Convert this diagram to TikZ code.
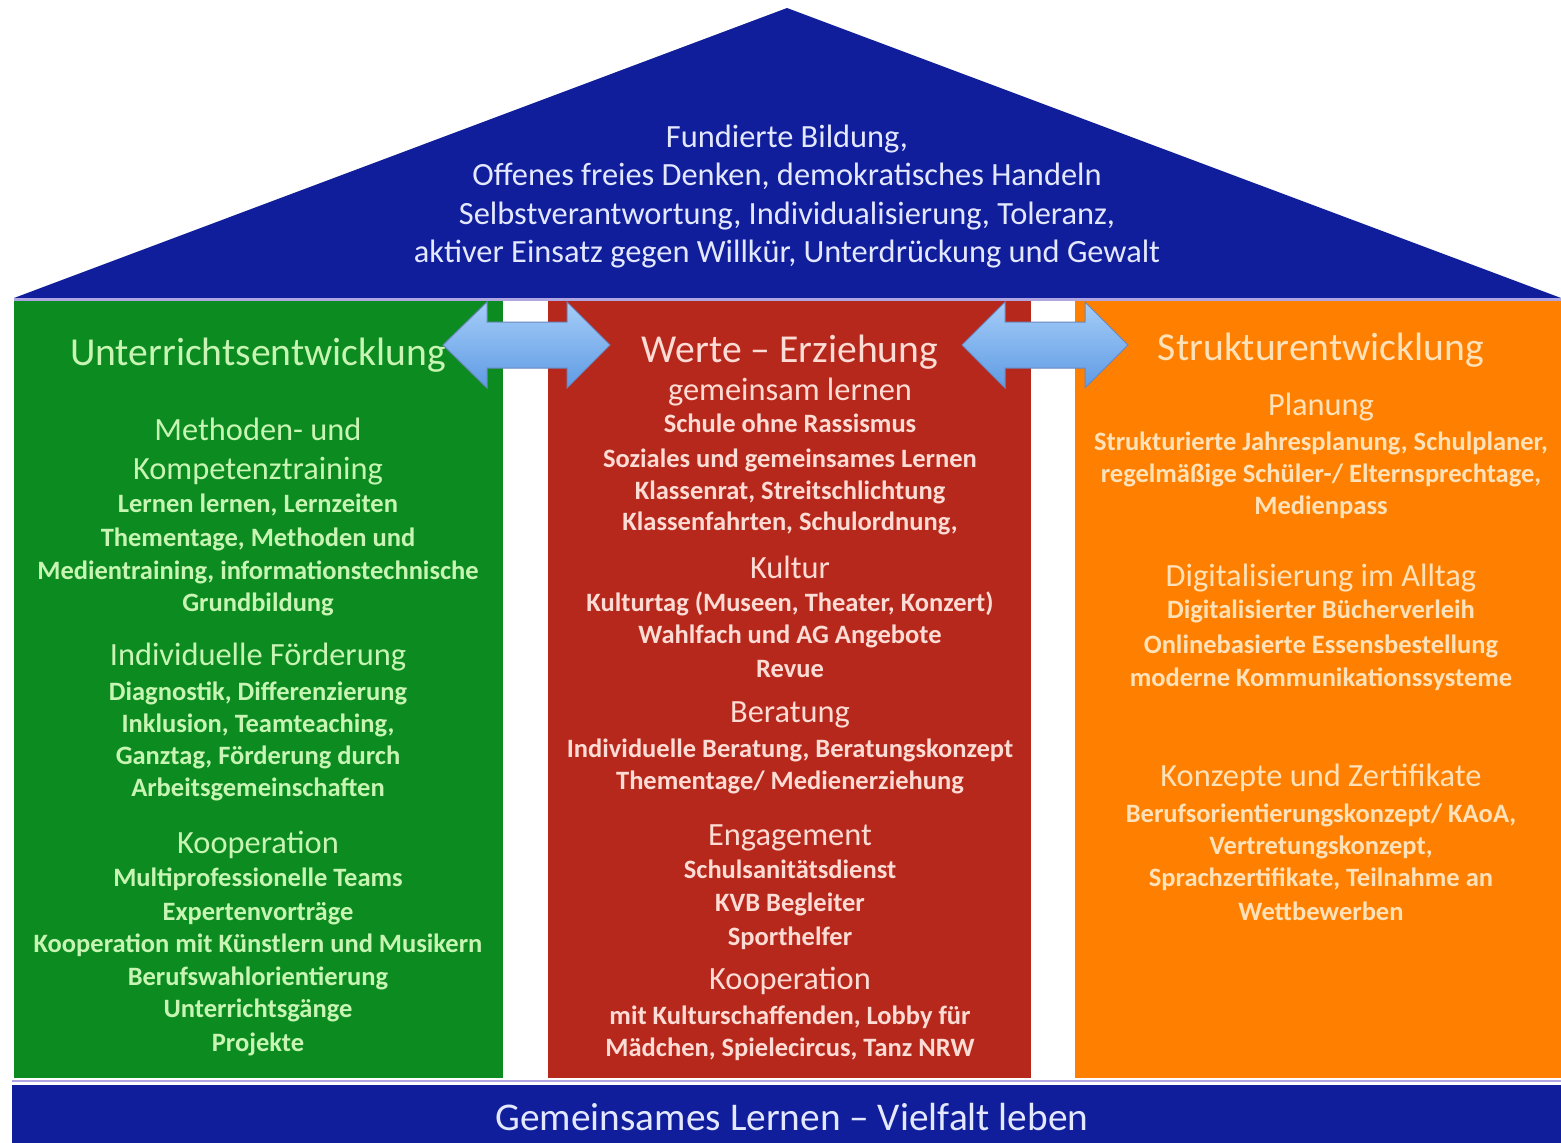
\documentclass[tikz,border=0pt]{standalone}
\usepackage{fontspec}
\setmainfont{Carlito}
\definecolor{navy}{RGB}{16,30,155}
\definecolor{colgreen}{RGB}{12,140,32}
\definecolor{colred}{RGB}{183,40,28}
\definecolor{colorange}{RGB}{255,128,0}
\definecolor{lav}{RGB}{175,165,225}
\definecolor{rooftxt}{RGB}{228,232,255}
\definecolor{greentxt}{RGB}{200,245,180}
\definecolor{redtxt}{RGB}{252,220,212}
\definecolor{orangetxt}{RGB}{255,226,185}
\definecolor{arrowtop}{RGB}{165,205,248}
\definecolor{arrowbot}{RGB}{95,155,228}
\definecolor{arrowedge}{RGB}{105,135,190}
\tikzset{
  tx/.style={inner sep=0pt, anchor=center, text height=6pt, text depth=5.5pt},
  rooft/.style={tx, text=rooftxt, yshift=-10pt, font=\fontsize{32.4}{38}\selectfont},
  hd/.style={tx, yshift=-13pt, font=\fontsize{39.6}{47}\selectfont},
  sh/.style={tx, yshift=-10pt, font=\fontsize{32.4}{38}\selectfont},
  bd/.style={tx, yshift=-9pt, font=\bfseries\fontsize{26.5}{31}\selectfont},
  gtx/.style={text=greentxt},
  rtx/.style={text=redtxt},
  otx/.style={text=orangetxt},
  linkarrow/.style={top color=arrowtop, bottom color=arrowbot, draw=arrowedge, line width=1pt, line join=miter},
}
\begin{document}
\begin{tikzpicture}[x=1pt,y=-1pt]
\useasboundingbox (0,0) rectangle (1561,1143);
\fill[white] (0,0) rectangle (1561,1143);
% roof
\fill[navy] (14,298) -- (787,8) -- (1561,298) -- cycle;
% columns
\fill[colgreen] (14,300) rectangle (503,1078);
\fill[colred] (548,300) rectangle (1031,1078);
\fill[colorange] (1075,300) rectangle (1561,1078);
\draw[lav, line width=2.5pt] (14,299.5) -- (1561,299.5);
\draw[lav, line width=2pt] (12,1081) -- (1561,1081);
% base band
\fill[navy] (12,1085) rectangle (1561,1143);

% roof text
\node[rooft] (r1) at (787,137) {Fundierte Bildung,};
\node[rooft] (r2) at (787,175) {Offenes freies Denken, demokratisches Handeln};
\node[rooft] (r3) at (787,214) {Selbstverantwortung, Individualisierung, Toleranz,};
\node[rooft] (r4) at (787,252) {aktiver Einsatz gegen Willkür, Unterdrückung und Gewalt};

% base text
\node[tx, text=rooftxt, yshift=-12pt, font=\fontsize{39.3}{45}\selectfont] (base) at (792,1118) {Gemeinsames Lernen – Vielfalt leben};

% green column
\node[hd,gtx] (g0) at (258,352) {Unterrichtsentwicklung};
\node[sh,gtx] (g1) at (258,430) {Methoden- und};
\node[sh,gtx] (g2) at (258,469) {Kompetenztraining};
\node[bd,gtx] (g3) at (258,503) {Lernen lernen, Lernzeiten};
\node[bd,gtx] (g4) at (258,537) {Thementage, Methoden und};
\node[bd,gtx] (g5) at (258,570) {Medientraining, informationstechnische};
\node[bd,gtx] (g6) at (258,602) {Grundbildung};
\node[sh,gtx] (g7) at (258,655) {Individuelle Förderung};
\node[bd,gtx] (g8) at (258,691) {Diagnostik, Differenzierung};
\node[bd,gtx] (g9) at (258,723) {Inklusion, Teamteaching,};
\node[bd,gtx] (g10) at (258,755) {Ganztag, Förderung durch};
\node[bd,gtx] (g11) at (258,787) {Arbeitsgemeinschaften};
\node[sh,gtx] (g12) at (258,843) {Kooperation};
\node[bd,gtx] (g13) at (258,877) {Multiprofessionelle Teams};
\node[bd,gtx] (g14) at (258,911) {Expertenvorträge};
\node[bd,gtx] (g15) at (258,943) {Kooperation mit Künstlern und Musikern};
\node[bd,gtx] (g16) at (258,976) {Berufswahlorientierung};
\node[bd,gtx] (g17) at (258,1008) {Unterrichtsgänge};
\node[bd,gtx] (g18) at (258,1042) {Projekte};

% red column
\node[hd,rtx] (w0) at (790,349) {Werte – Erziehung};
\node[sh,rtx] (w1) at (790,390) {gemeinsam lernen};
\node[bd,rtx] (w2) at (790,423) {Schule ohne Rassismus};
\node[bd,rtx] (w3) at (790,458) {Soziales und gemeinsames Lernen};
\node[bd,rtx] (w4) at (790,490) {Klassenrat, Streitschlichtung};
\node[bd,rtx] (w5) at (790,521) {Klassenfahrten, Schulordnung,};
\node[sh,rtx] (w6) at (790,568) {Kultur};
\node[bd,rtx] (w7) at (790,602) {Kulturtag (Museen, Theater, Konzert)};
\node[bd,rtx] (w8) at (790,634) {Wahlfach und AG Angebote};
\node[bd,rtx] (w9) at (790,668) {Revue};
\node[sh,rtx] (w10) at (790,712) {Beratung};
\node[bd,rtx] (w11) at (790,748) {Individuelle Beratung, Beratungskonzept};
\node[bd,rtx] (w12) at (790,780) {Thementage/ Medienerziehung};
\node[sh,rtx] (w13) at (790,835) {Engagement};
\node[bd,rtx] (w14) at (790,869) {Schulsanitätsdienst};
\node[bd,rtx] (w15) at (790,902) {KVB Begleiter};
\node[bd,rtx] (w16) at (790,936) {Sporthelfer};
\node[sh,rtx] (w17) at (790,979) {Kooperation};
\node[bd,rtx] (w18) at (790,1015) {mit Kulturschaffenden, Lobby für};
\node[bd,rtx] (w19) at (790,1047) {Mädchen, Spielecircus, Tanz NRW};

% orange column
\node[hd,otx] (s0) at (1321,347) {Strukturentwicklung};
\node[sh,otx] (s1) at (1321,405) {Planung};
\node[bd,otx] (s2) at (1321,441) {Strukturierte Jahresplanung, Schulplaner,};
\node[bd,otx] (s3) at (1321,473) {regelmäßige Schüler-/ Elternsprechtage,};
\node[bd,otx] (s4) at (1321,505) {Medienpass};
\node[sh,otx] (s5) at (1321,576) {Digitalisierung im Alltag};
\node[bd,otx] (s6) at (1321,609) {Digitalisierter Bücherverleih};
\node[bd,otx] (s7) at (1321,644) {Onlinebasierte Essensbestellung};
\node[bd,otx] (s8) at (1321,677) {moderne Kommunikationssysteme};
\node[sh,otx] (s9) at (1321,776) {Konzepte und Zertifikate};
\node[bd,otx] (s10) at (1321,813) {Berufsorientierungskonzept/ KAoA,};
\node[bd,otx] (s11) at (1321,845) {Vertretungskonzept,};
\node[bd,otx] (s12) at (1321,877) {Sprachzertifikate, Teilnahme an};
\node[bd,otx] (s13) at (1321,911) {Wettbewerben};

% double arrows between columns
\path[linkarrow] (443,345) -- (487,302) -- (487,322) -- (567,322) -- (567,302) -- (610,345)
  -- (567,388) -- (567,368) -- (487,368) -- (487,388) -- cycle;
\path[linkarrow] (962,345) -- (1005,302) -- (1005,322) -- (1085,322) -- (1085,302) -- (1128,345)
  -- (1085,388) -- (1085,368) -- (1005,368) -- (1005,388) -- cycle;
\end{tikzpicture}
\end{document}
